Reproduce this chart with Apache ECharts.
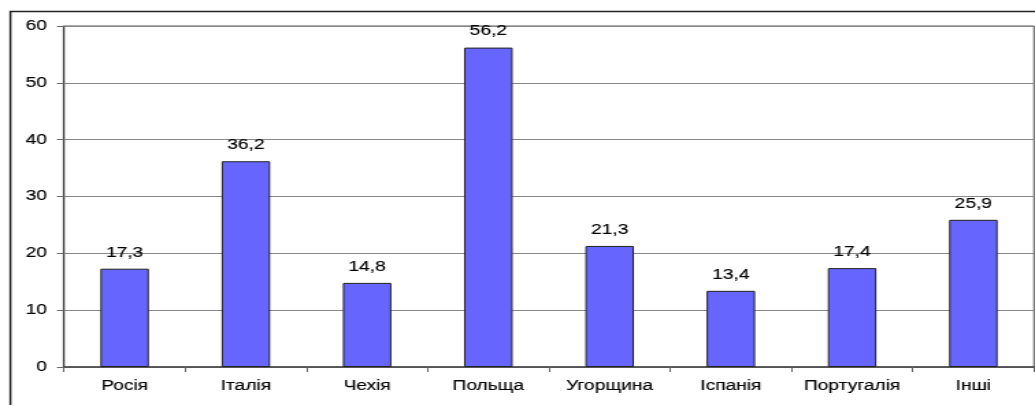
<!DOCTYPE html>
<html><head><meta charset="utf-8">
<script src="https://cdn.jsdelivr.net/npm/echarts@6/dist/echarts.min.js"></script>
<style>
html,body{margin:0;padding:0;background:#fff;overflow:hidden}
#wrap{width:1035px;height:405px;overflow:hidden}
#c{width:756px;height:405px;transform:scaleX(1.369);transform-origin:0 0}
</style>
</head><body><div id="wrap"><div id="c"></div></div>
<script>
const categories = ['Росія','Італія','Чехія','Польща','Угорщина','Іспанія','Португалія','Інші'];
const values = [17.3, 36.2, 14.8, 56.2, 21.3, 13.4, 17.4, 25.9];
const yTicks = [0, 10, 20, 30, 40, 50, 60];

const S = 1.369; // horizontal stretch of the reference picture
const txt = {color: '#000', fontFamily: 'Liberation Sans, Arial', fontSize: 14, textBorderColor: '#000', textBorderWidth: 0.15};
const chart = echarts.init(document.getElementById('c'), null, {renderer: 'canvas'});
chart.setOption({
  animation: false,
  backgroundColor: '#fff',
  graphic: [{
    type: 'rect', left: 7 / S, top: 9, shape: {width: 800, height: 410},
    style: {fill: 'none', stroke: '#222', lineWidth: 1.5}, silent: true, z: -1
  }],
  grid: {left: 64 / S, right: 1 / S, top: 26, bottom: 38, show: true, borderColor: '#555', borderWidth: 1},
  xAxis: {
    type: 'category', data: categories,
    axisLine: {lineStyle: {color: '#444', width: 1.5}},
    axisTick: {show: true, interval: 0, length: 5, lineStyle: {color: '#666'}},
    axisLabel: Object.assign({interval: 0, margin: 12}, txt)
  },
  yAxis: {
    type: 'value', min: yTicks[0], max: yTicks[yTicks.length - 1], interval: 10,
    axisLine: {show: true, lineStyle: {color: '#444', width: 1.2}},
    axisTick: {show: true, length: 7 / S, lineStyle: {color: '#666'}},
    axisLabel: Object.assign({margin: 17 / S}, txt),
    splitLine: {lineStyle: {color: '#888', width: 1}}
  },
  series: [{
    type: 'bar', data: values, barWidth: '40%',
    itemStyle: {color: '#6666FF', borderColor: '#222', borderWidth: 1},
    label: Object.assign({
      show: true, position: 'top', distance: 9,
      formatter: p => String(p.value).replace('.', ',')
    }, txt)
  }]
});
</script></body></html>
